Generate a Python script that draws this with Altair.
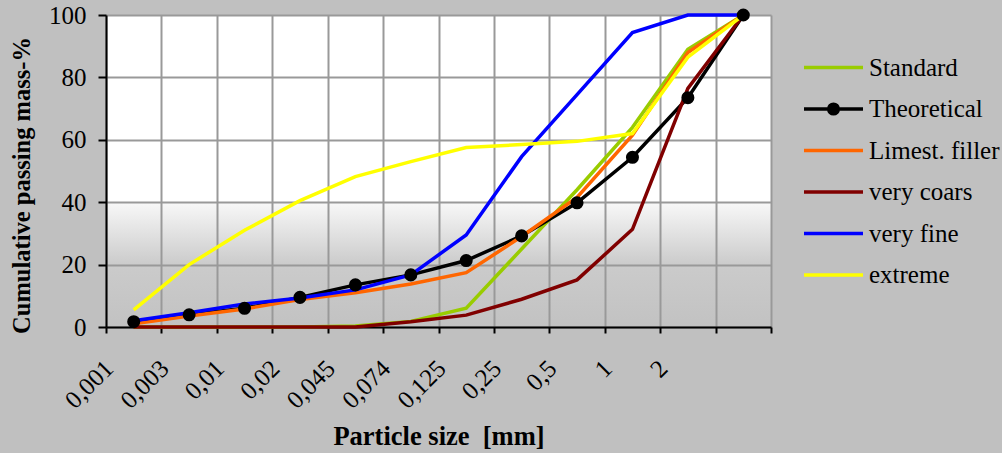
import altair as alt
import pandas as pd

sizes = ["0,001", "0,003", "0,01", "0,02", "0,045", "0,074", "0,125", "0,25", "0,5", "1", "2", " "]
series_names = ["Standard", "Theoretical", "Limest. filler", "very coars", "very fine", "extreme"]
colors = ["#99cc00", "#000000", "#ff6600", "#800000", "#0000ff", "#ffff00"]

standard = [0, 0, 0, 0, 0.3, 1.8, 6, 25, 44, 64, 89, 100]
theoretical = [1.7, 3.9, 6.0, 9.5, 13.5, 16.7, 21.3, 29.2, 39.8, 54.4, 73.5, 100]
limestone = [1, 3.5, 5.8, 8.8, 11, 13.8, 17.4, 29, 41.5, 61.5, 88, 100]
very_coars = [0, 0, 0, 0, 0, 1.7, 3.8, 8.9, 15.1, 31.3, 76.5, 100]
very_fine = [2, 4.6, 7.4, 9.3, 11.9, 16.7, 29.5, 54.6, 74.5, 94.4, 100, 100]
extreme = [5.5, 20, 31, 40.5, 48.2, 53, 57.5, 58.5, 59.5, 62, 86.5, 100]

line_path = "M-2.95,0H2.95"
dot_path = "M-2.95,0H2.95M-0.48,0A0.48,0.48 0 1,0 0.48,0A0.48,0.48 0 1,0 -0.48,0Z"
shapes = [line_path, dot_path, line_path, line_path, line_path, line_path]

rows = []
for name, vals in zip(series_names, [standard, theoretical, limestone, very_coars, very_fine, extreme]):
    for i, (s, v) in enumerate(zip(sizes, vals)):
        rows.append({"size": s, "series": name, "value": v, "idx": i})
df = pd.DataFrame(rows)

FONT = "Liberation Serif"

x_enc = alt.X(
    "size:O",
    sort=sizes,
    scale=alt.Scale(type="band", domain=sizes, paddingInner=0, paddingOuter=0),
    axis=alt.Axis(
        title="Particle size \u00a0[mm]",
        tickBand="extent",
        labelAngle=-45,
        labelAlign="right",
        labelBaseline="middle",
        labelOffset=-25,
        labelPadding=31,
        tickSize=6,
        tickWidth=2,
        tickColor="black",
        domainColor="black",
        domainWidth=2,
        grid=True,
        gridColor="#999999",
        gridWidth=2,
        labelFont=FONT,
        labelFontSize=25,
        labelColor="black",
        titleFont=FONT,
        titleFontSize=26.5,
        titleFontWeight="bold",
        titleColor="black",
        titlePadding=11,
    ),
)

y_enc = alt.Y(
    "value:Q",
    scale=alt.Scale(domain=[0, 100], nice=False),
    axis=alt.Axis(
        values=[0, 20, 40, 60, 80, 100],
        title="Cumulative passing mass-%",
        tickSize=8,
        tickWidth=2,
        tickColor="black",
        domainColor="black",
        domainWidth=2,
        gridColor="#999999",
        gridWidth=2,
        labelPadding=12,
        labelFont=FONT,
        labelFontSize=25,
        labelColor="black",
        titleFont=FONT,
        titleFontSize=24.5,
        titleFontWeight="bold",
        titleColor="black",
        titlePadding=14,
        titleY=170,
    ),
)

color_scale = alt.Scale(domain=series_names, range=colors)

lines = alt.Chart(df).mark_line(strokeWidth=3.5).encode(
    x=x_enc,
    y=y_enc,
    color=alt.Color("series:N", scale=color_scale, legend=None),
    order=alt.Order("idx:Q"),
)

points = alt.Chart(df).transform_filter(
    alt.datum.series == "Theoretical"
).mark_circle(size=170, opacity=1, color="black").encode(x=x_enc, y=y_enc)

leg = alt.Legend(
    title=None,
    orient="none",
    legendX=715,
    legendY=40,
    symbolSize=400,
    symbolStrokeWidth=3.5,
    symbolOpacity=1,
    labelFont=FONT,
    labelFontSize=25,
    labelColor="black",
    labelOffset=23,
    rowPadding=15.5,
    padding=0,
)

legend_layer = alt.Chart(df).transform_filter("false").mark_point(
    filled=True, strokeWidth=3.5, opacity=1
).encode(
    x=x_enc,
    y=y_enc,
    color=alt.Color("series:N", scale=color_scale, legend=leg),
    stroke=alt.Stroke("series:N", scale=color_scale, legend=leg),
    shape=alt.Shape("series:N", scale=alt.Scale(domain=series_names, range=shapes), legend=leg),
)

grad = ("{gradient:'linear',x1:0,y1:0,x2:0,y2:1,stops:["
        "{offset:0,color:'#ffffff'},{offset:0.6,color:'#ffffff'},"
        "{offset:0.6,color:'#f8f8f8'},{offset:0.8,color:'#cbcbcb'},"
        "{offset:1,color:'#c2c2c2'}]}")

chart = alt.layer(lines, points, legend_layer).resolve_legend(
    color="independent", stroke="independent", shape="independent"
).properties(
    width=665,
    height=312,
    autosize=alt.AutoSizeParams(type="none"),
    padding={"left": 106, "top": 15, "right": 231, "bottom": 126},
).configure(
    background="#c0c0c0",
    font=FONT,
).configure_view(
    fill=alt.ExprRef(expr=grad),
    stroke=None,
)

chart.save("out.html", embed_options={"renderer": "svg", "actions": False})
